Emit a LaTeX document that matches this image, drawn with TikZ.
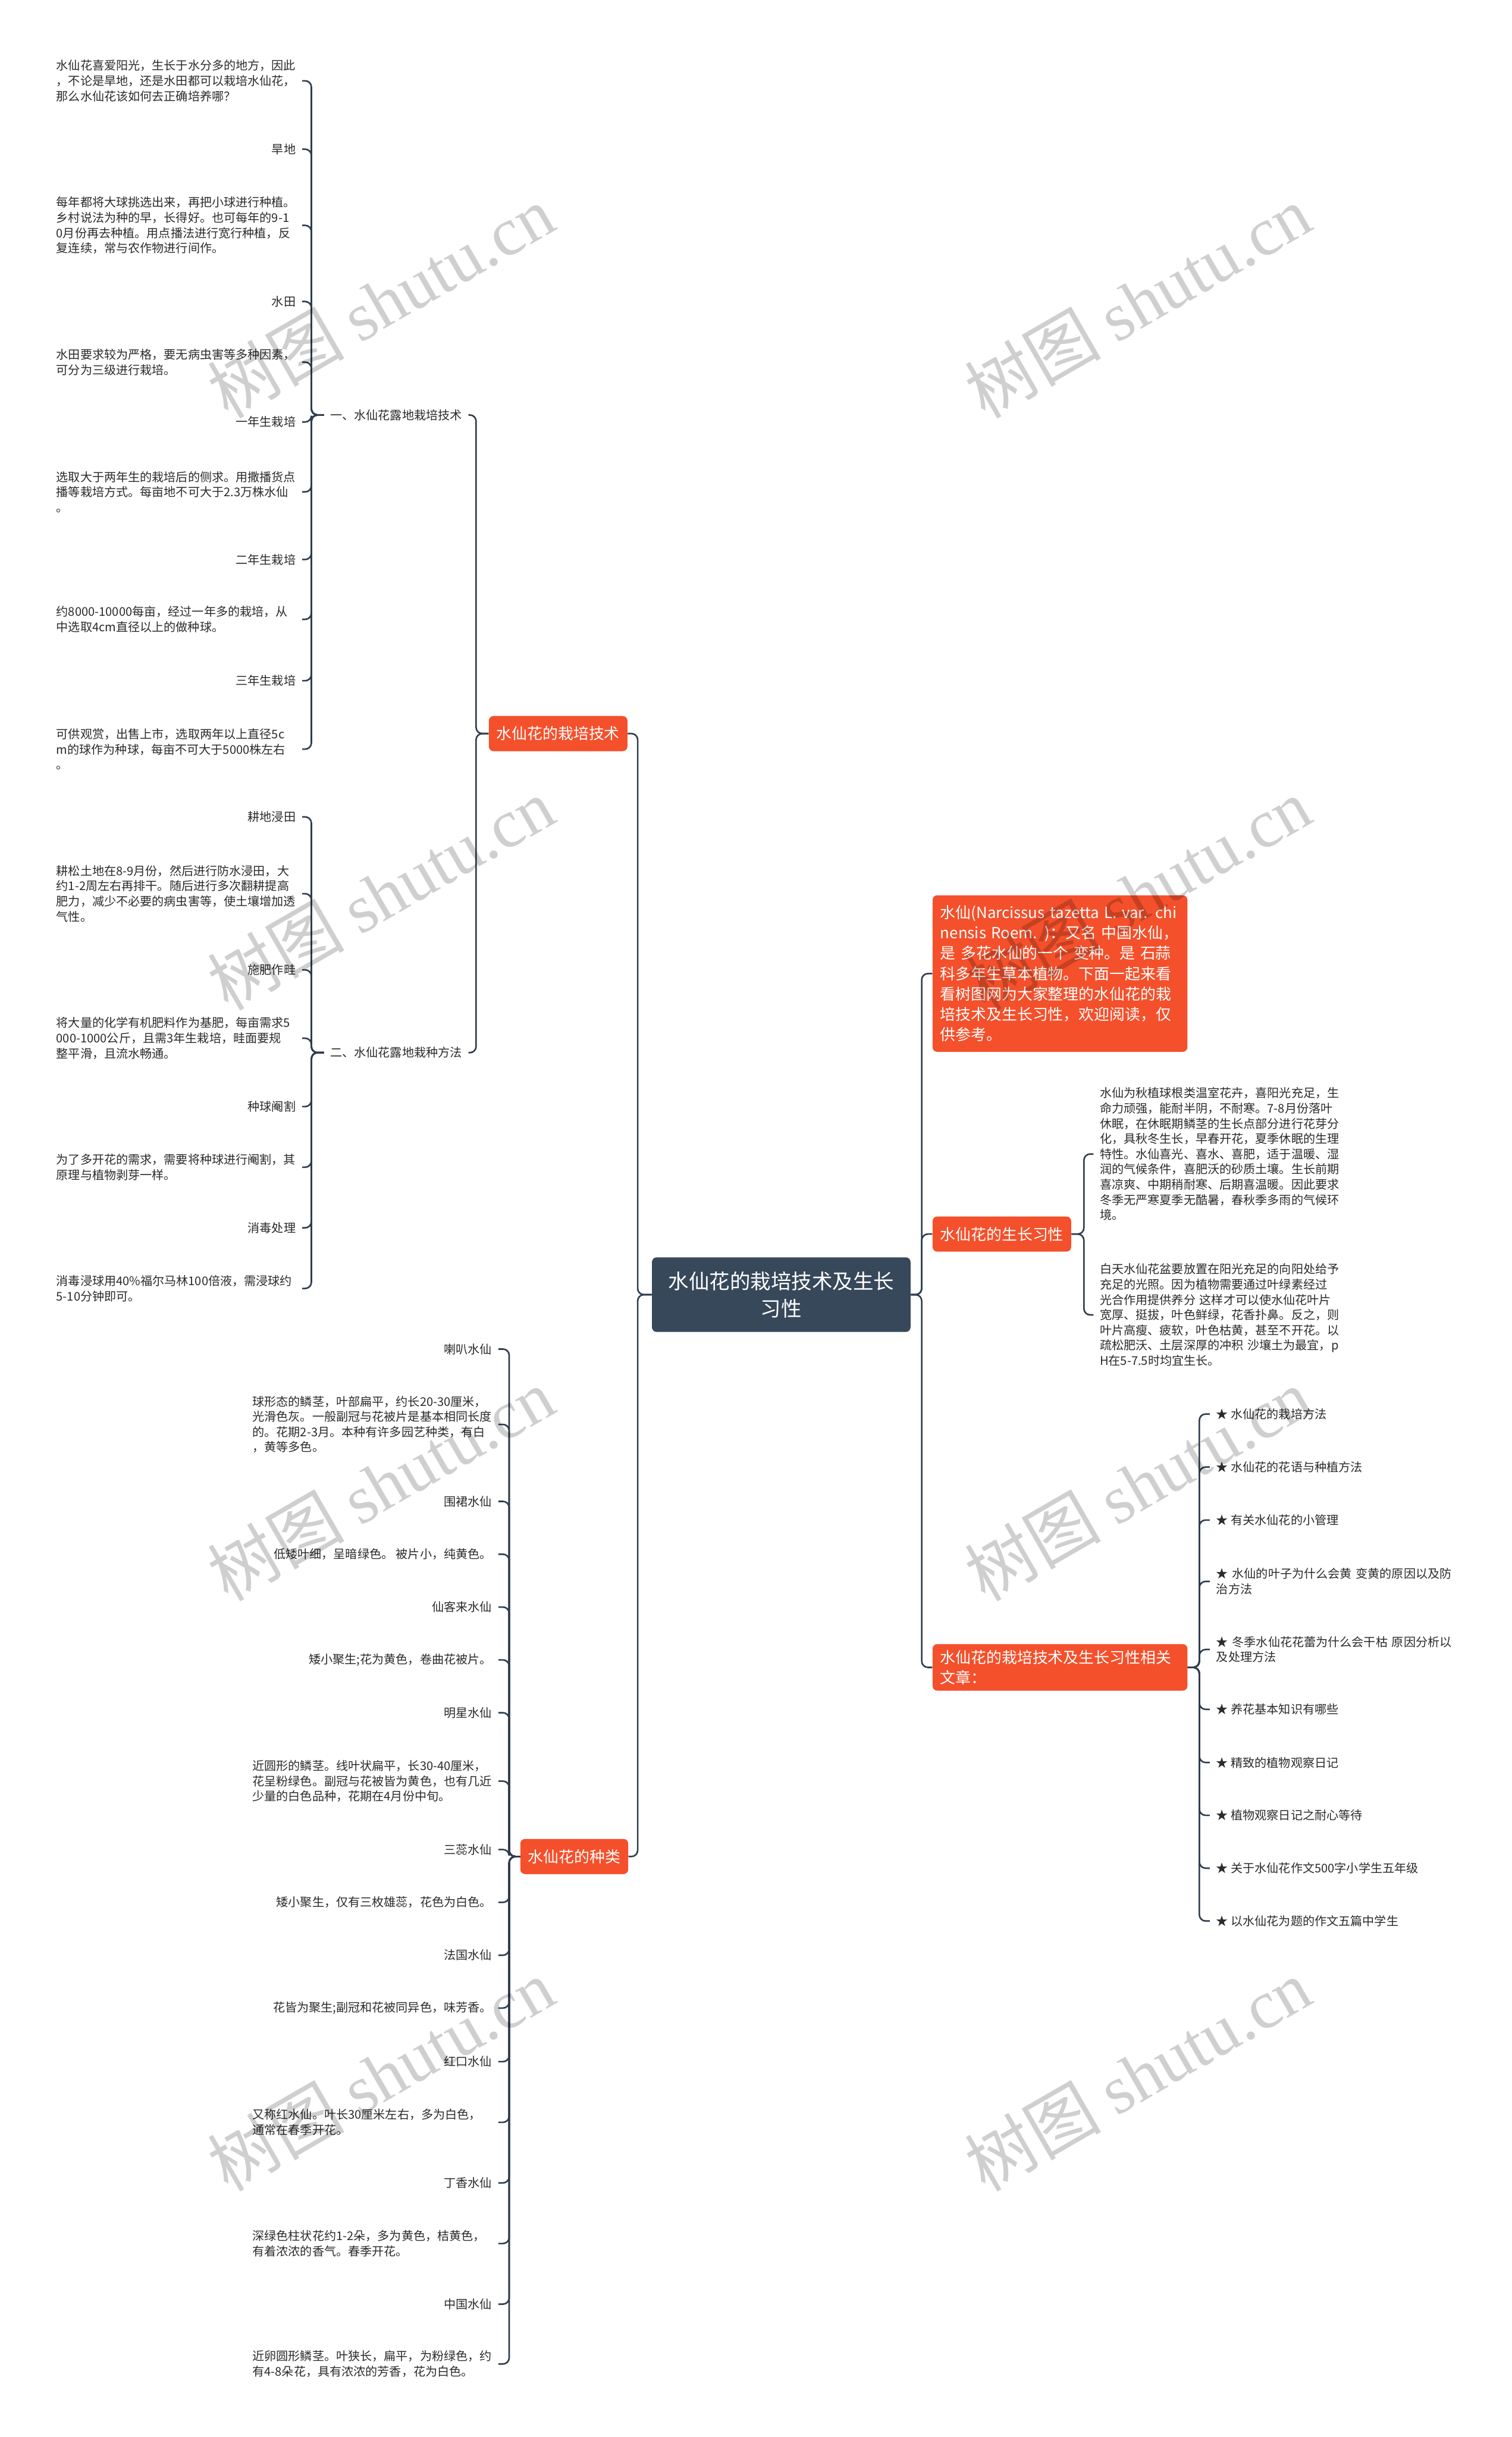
\documentclass[tikz,border=0pt]{standalone}
\usepackage{fontspec}
\setmainfont{Noto Sans CJK SC}
\newfontfamily\wmlatin{Liberation Serif}
\definecolor{orng}{HTML}{F4502B}
\definecolor{rootc}{HTML}{37485B}
\definecolor{linec}{HTML}{2E3D4E}
\definecolor{txt}{HTML}{2B2B2B}
\begin{document}
\begin{tikzpicture}[x=1pt,y=-1pt,
 conn/.style={draw=linec, line width=1pt, rounded corners=4pt},
 leaf/.style={inner xsep=4pt, inner ysep=1pt, text=txt, font=\fontsize{7.7}{9.8}\selectfont, align=left},
 para/.style={leaf, text width=154pt},
 rpara/.style={leaf, text width=156pt},
 topic/.style={fill=orng, text=white, rounded corners=3pt, inner xsep=5pt, inner ysep=4pt, minimum height=22.6pt, font=\fontsize{9.9}{12.8}\selectfont, align=left},
 rootbox/.style={fill=rootc, text=white, rounded corners=3pt, minimum width=166.4pt, minimum height=48pt, font=\fontsize{13.2}{17.6}\selectfont, align=center},
 wm/.style={text=black, text opacity=0.19, font=\fontsize{44}{44}\selectfont, rotate=30}
]
\fill[white] (0,0) rectangle (973,1568);
\useasboundingbox (0,0) rectangle (973,1568);

% root
\node[rootbox] (root) at (502.8,833) {水仙花的栽培技术及生长\\习性};

% left level 1
\node[topic, anchor=east] (tech) at (404,472) {水仙花的栽培技术};
\node[topic, anchor=east] (kinds) at (404.5,1194.5) {水仙花的种类};

% level 2 under tech
\node[leaf, anchor=east] (s1) at (301.5,267) {一、水仙花露地栽培技术};
\node[leaf, anchor=east] (s2) at (301.5,677.3) {二、水仙花露地栽种方法};

% children of s1
\node[para, anchor=east] (a1) at (194.5,52) {水仙花喜爱阳光，生长于水分多的地方，因此\\，不论是旱地，还是水田都可以栽培水仙花，\\那么水仙花该如何去正确培养哪？};
\node[leaf, anchor=east] (a2) at (194.5,96) {旱地};
\node[para, anchor=east] (a3) at (194.5,145) {每年都将大球挑选出来，再把小球进行种植。\\乡村说法为种的早，长得好。也可每年的9-1\\0月份再去种植。用点播法进行宽行种植，反\\复连续，常与农作物进行间作。};
\node[leaf, anchor=east] (a4) at (194.5,194) {水田};
\node[para, anchor=east] (a5) at (194.5,233) {水田要求较为严格，要无病虫害等多种因素，\\可分为三级进行栽培。};
\node[leaf, anchor=east] (a6) at (194.5,271.5) {一年生栽培};
\node[para, anchor=east] (a7) at (194.5,316.5) {选取大于两年生的栽培后的侧求。用撒播货点\\播等栽培方式。每亩地不可大于2.3万株水仙\\。};
\node[leaf, anchor=east] (a8) at (194.5,360) {二年生栽培};
\node[para, anchor=east] (a9) at (194.5,398.5) {约8000-10000每亩，经过一年多的栽培，从\\中选取4cm直径以上的做种球。};
\node[leaf, anchor=east] (a10) at (194.5,438) {三年生栽培};
\node[para, anchor=east] (a11) at (194.5,482) {可供观赏，出售上市，选取两年以上直径5c\\m的球作为种球，每亩不可大于5000株左右\\。};

% children of s2
\node[leaf, anchor=east] (b1) at (194.5,525.6) {耕地浸田};
\node[para, anchor=east] (b2) at (194.5,575) {耕松土地在8-9月份，然后进行防水浸田，大\\约1-2周左右再排干。随后进行多次翻耕提高\\肥力，减少不必要的病虫害等，使土壤增加透\\气性。};
\node[leaf, anchor=east] (b3) at (194.5,624) {施肥作畦};
\node[para, anchor=east] (b4) at (194.5,668) {将大量的化学有机肥料作为基肥，每亩需求5\\000-1000公斤，且需3年生栽培，畦面要规\\整平滑，且流水畅通。};
\node[leaf, anchor=east] (b5) at (194.5,712) {种球阉割};
\node[para, anchor=east] (b6) at (194.5,751) {为了多开花的需求，需要将种球进行阉割，其\\原理与植物剥芽一样。};
\node[leaf, anchor=east] (b7) at (194.5,790) {消毒处理};
\node[para, anchor=east] (b8) at (194.5,829) {消毒浸球用40\%福尔马林100倍液，需浸球约\\5-10分钟即可。};

% children of kinds
\node[leaf, anchor=east] (c1) at (320.7,868) {喇叭水仙};
\node[para, anchor=east] (c2) at (320.7,916.5) {球形态的鳞茎，叶部扁平，约长20-30厘米，\\光滑色灰。一般副冠与花被片是基本相同长度\\的。花期2-3月。本种有许多园艺种类，有白\\，黄等多色。};
\node[leaf, anchor=east] (c3) at (320.7,966) {围裙水仙};
\node[leaf, anchor=east] (c4) at (320.7,1000) {低矮叶细，呈暗绿色。 被片小，纯黄色。};
\node[leaf, anchor=east] (c5) at (320.7,1034) {仙客来水仙};
\node[leaf, anchor=east] (c6) at (320.7,1068) {矮小聚生;花为黄色，卷曲花被片。};
\node[leaf, anchor=east] (c7) at (320.7,1102) {明星水仙};
\node[para, anchor=east] (c8) at (320.7,1146) {近圆形的鳞茎。线叶状扁平，长30-40厘米，\\花呈粉绿色。副冠与花被皆为黄色，也有几近\\少量的白色品种，花期在4月份中旬。};
\node[leaf, anchor=east] (c9) at (320.7,1190) {三蕊水仙};
\node[leaf, anchor=east] (c10) at (320.7,1224) {矮小聚生，仅有三枚雄蕊，花色为白色。};
\node[leaf, anchor=east] (c11) at (320.7,1258) {法国水仙};
\node[leaf, anchor=east] (c12) at (320.7,1292) {花皆为聚生;副冠和花被同异色，味芳香。};
\node[leaf, anchor=east] (c13) at (320.7,1326.5) {红口水仙};
\node[para, anchor=east] (c14) at (320.7,1365.5) {又称红水仙。叶长30厘米左右，多为白色，\\通常在春季开花。};
\node[leaf, anchor=east] (c15) at (320.7,1404.5) {丁香水仙};
\node[para, anchor=east] (c16) at (320.7,1443.5) {深绿色柱状花约1-2朵，多为黄色，桔黄色，\\有着浓浓的香气。春季开花。};
\node[leaf, anchor=east] (c17) at (320.7,1482.5) {中国水仙};
\node[para, anchor=east] (c18) at (320.7,1521) {近卵圆形鳞茎。叶狭长，扁平，为粉绿色，约\\有4-8朵花，具有浓浓的芳香，花为白色。};

% right side
\node[topic, anchor=west, text width=154pt, inner ysep=6.5pt, font=\fontsize{9.9}{13.1}\selectfont] (intro) at (600,626.4) {水仙(Narcissus tazetta L. var. chi\\nensis Roem. )：又名 中国水仙，\\是 多花水仙的一个 变种。是 石蒜\\科多年生草本植物。下面一起来看\\看树图网为大家整理的水仙花的栽\\培技术及生长习性，欢迎阅读，仅\\供参考。};
\node[topic, anchor=west] (habit) at (600,794) {水仙花的生长习性};
\node[topic, anchor=west, text width=154pt] (rel) at (600,1072.8) {水仙花的栽培技术及生长习性相关\\文章：};

\node[para, anchor=west] (d1) at (703.7,742.5) {水仙为秋植球根类温室花卉，喜阳光充足，生\\命力顽强，能耐半阴，不耐寒。7-8月份落叶\\休眠，在休眠期鳞茎的生长点部分进行花芽分\\化，具秋冬生长，早春开花，夏季休眠的生理\\特性。水仙喜光、喜水、喜肥，适于温暖、湿\\润的气候条件，喜肥沃的砂质土壤。生长前期\\喜凉爽、中期稍耐寒、后期喜温暖。因此要求\\冬季无严寒夏季无酷暑，春秋季多雨的气候环\\境。};
\node[para, anchor=west] (d2) at (703.7,846) {白天水仙花盆要放置在阳光充足的向阳处给予\\充足的光照。因为植物需要通过叶绿素经过\\光合作用提供养分 这样才可以使水仙花叶片\\宽厚、挺拔，叶色鲜绿，花香扑鼻。反之，则\\叶片高瘦、疲软，叶色枯黄，甚至不开花。以\\疏松肥沃、土层深厚的冲积 沙壤土为最宜，p\\H在5-7.5时均宜生长。};

\node[leaf, anchor=west] (e1) at (778.6,909.8) {★ 水仙花的栽培方法};
\node[leaf, anchor=west] (e2) at (778.6,943.9) {★ 水仙花的花语与种植方法};
\node[leaf, anchor=west] (e3) at (778.6,978) {★ 有关水仙花的小管理};
\node[rpara, anchor=west] (e4) at (778.6,1017.5) {★ 水仙的叶子为什么会黄 变黄的原因以及防\\治方法};
\node[rpara, anchor=west] (e5) at (778.6,1061.3) {★ 冬季水仙花花蕾为什么会干枯 原因分析以\\及处理方法};
\node[leaf, anchor=west] (e6) at (778.6,1099.8) {★ 养花基本知识有哪些};
\node[leaf, anchor=west] (e7) at (778.6,1134) {★ 精致的植物观察日记};
\node[leaf, anchor=west] (e8) at (778.6,1168) {★ 植物观察日记之耐心等待};
\node[leaf, anchor=west] (e9) at (778.6,1202) {★ 关于水仙花作文500字小学生五年级};
\node[leaf, anchor=west] (e10) at (778.6,1236) {★ 以水仙花为题的作文五篇中学生};

% connectors
\foreach \c in {tech,kinds} \draw[conn] (root.west) -- ++(-9,0) |- (\c.east);
\foreach \c in {s1,s2} \draw[conn] (tech.west) -- ++(-8,0) |- (\c.east);
\foreach \c in {a1,a2,a3,a4,a5,a6,a7,a8,a9,a10,a11} \draw[conn] (s1.west) -- ++(-8,0) |- (\c.east);
\foreach \c in {b1,b2,b3,b4,b5,b6,b7,b8} \draw[conn] (s2.west) -- ++(-8,0) |- (\c.east);
\foreach \c in {c1,c2,c3,c4,c5,c6,c7,c8,c9,c10,c11,c12,c13,c14,c15,c16,c17,c18} \draw[conn] (kinds.west) -- ++(-7,0) |- (\c.east);
\foreach \c in {intro,habit,rel} \draw[conn] (root.east) -- ++(7,0) |- (\c.west);
\foreach \c in {d1,d2} \draw[conn] (habit.east) -- ++(8,0) |- (\c.west);
\foreach \c in {e1,e2,e3,e4,e5,e6,e7,e8,e9,e10} \draw[conn] (rel.east) -- ++(7.5,0) |- (\c.west);

% watermarks
\foreach \wx in {245,732} \foreach \wy in {194,575,955,1335}
  \node[wm] (wm-\wx-\wy) at (\wx,\wy) {树图 {\wmlatin shutu.cn}};
\end{tikzpicture}
\end{document}
